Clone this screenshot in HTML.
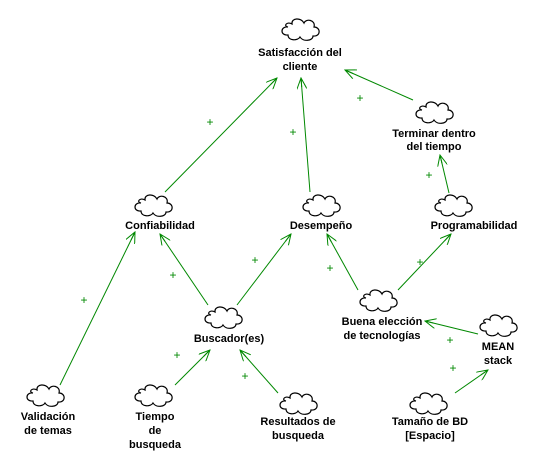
<!DOCTYPE html>
<html><head><meta charset="utf-8"><style>
html,body{margin:0;padding:0;background:#fff;}
svg text{font-family:"Liberation Sans",sans-serif;font-weight:bold;font-size:11px;fill:#000;text-anchor:middle;}
.p{fill:#080;font-weight:normal;font-size:12px;}
</style></head><body>
<svg width="545" height="468" viewBox="0 0 545 468" xmlns="http://www.w3.org/2000/svg">
<defs>
<g id="c"><path d="M-12,-3 C-20,-4 -20,6 -12,5 C-12,11 -2,11 0,7 C3,12 13,11 13,6 C21,7 21,-3 14,-3 C16,-10 6,-12 4,-7 C1,-13 -9,-12 -8,-6 C-13,-9 -17,-4 -12,-3 Z" fill="#fff" stroke="#000" stroke-width="1.2"/></g>
<marker id="a" markerWidth="12" markerHeight="10" refX="11" refY="5" orient="auto" markerUnits="userSpaceOnUse"><path d="M0,0 L11,5 L0,10 M2,5 L11,5" fill="none" stroke="#080" stroke-width="1"/></marker>
</defs>
<g stroke="#080" stroke-width="1" fill="none" marker-end="url(#a)">
<line x1="165" y1="192" x2="277" y2="78"/>
<line x1="310" y1="192" x2="301" y2="78"/>
<line x1="413" y1="100" x2="345" y2="70"/>
<line x1="449" y1="193" x2="440" y2="155"/>
<line x1="208" y1="305" x2="160" y2="234"/>
<line x1="237" y1="305" x2="291" y2="234"/>
<line x1="358" y1="290" x2="327" y2="234"/>
<line x1="398" y1="290" x2="451" y2="234"/>
<line x1="478" y1="334" x2="425" y2="321"/>
<line x1="455" y1="393" x2="488" y2="370"/>
<line x1="60" y1="385" x2="135" y2="232"/>
<line x1="175" y1="385" x2="210" y2="350"/>
<line x1="278" y1="393" x2="240" y2="350"/>
</g>
<g class="pl">
<text class="p" x="210" y="126">+</text>
<text class="p" x="293" y="136">+</text>
<text class="p" x="360" y="102">+</text>
<text class="p" x="429" y="179">+</text>
<text class="p" x="173" y="279">+</text>
<text class="p" x="255" y="264">+</text>
<text class="p" x="330" y="272">+</text>
<text class="p" x="420" y="266">+</text>
<text class="p" x="450" y="344">+</text>
<text class="p" x="453" y="372">+</text>
<text class="p" x="84" y="304">+</text>
<text class="p" x="177" y="359">+</text>
<text class="p" x="245" y="380">+</text>
</g>
<use href="#c" x="300" y="30"/>
<text x="300" y="56">Satisfacción del</text><text x="300" y="70">cliente</text>
<use href="#c" x="434" y="113"/>
<text x="434" y="137">Terminar dentro</text><text x="434" y="150">del tiempo</text>
<use href="#c" x="153" y="206"/>
<text x="160" y="229">Confiabilidad</text>
<use href="#c" x="321" y="206"/>
<text x="321" y="229">Desempeño</text>
<use href="#c" x="453" y="206"/>
<text x="474" y="229">Programabilidad</text>
<use href="#c" x="223" y="318"/>
<text x="229" y="342">Buscador(es)</text>
<use href="#c" x="378" y="301"/>
<text x="382" y="325">Buena elección</text><text x="382" y="339">de tecnologías</text>
<use href="#c" x="498" y="326"/>
<text x="498" y="350">MEAN</text><text x="498" y="364">stack</text>
<use href="#c" x="45" y="396"/>
<text x="48" y="420">Validación</text><text x="48" y="434">de temas</text>
<use href="#c" x="153" y="396"/>
<text x="155" y="420">Tiempo</text><text x="155" y="434">de</text><text x="155" y="448">busqueda</text>
<use href="#c" x="298" y="404"/>
<text x="298" y="425">Resultados de</text><text x="298" y="439">busqueda</text>
<use href="#c" x="428" y="404"/>
<text x="430" y="425">Tamaño de BD</text><text x="430" y="439">[Espacio]</text>
</svg>
</body></html>
